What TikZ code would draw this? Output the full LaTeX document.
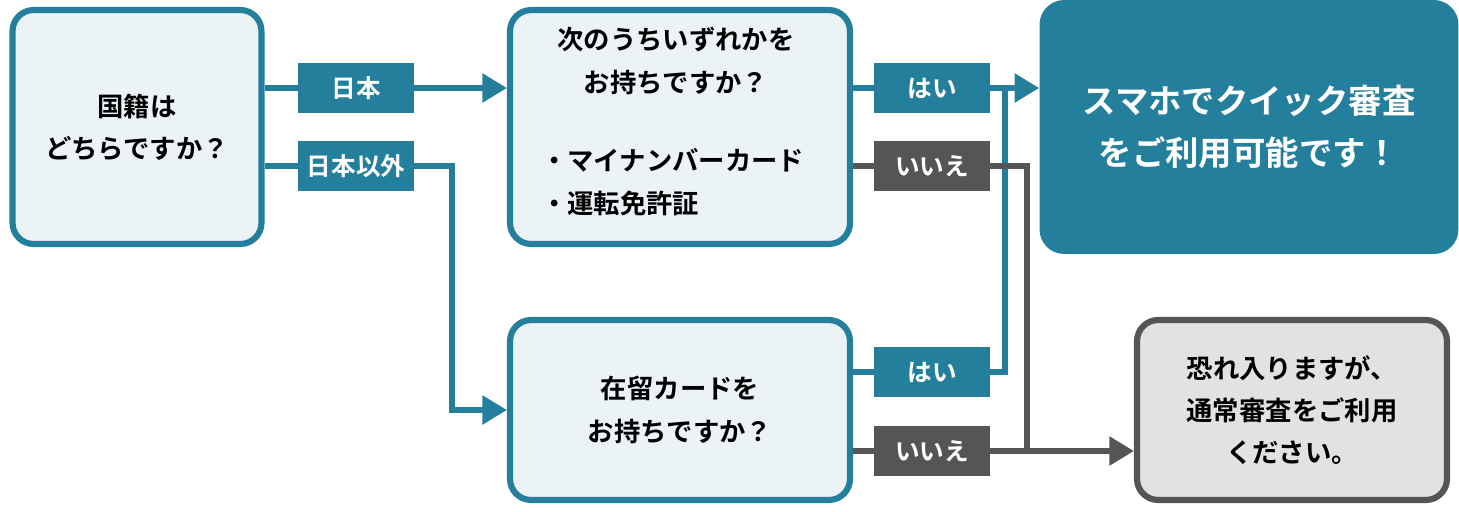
\documentclass[tikz,border=0pt]{standalone}
\usepackage{fontspec}
\newfontfamily\jp{Noto Sans CJK JP}[BoldFont={* Bold}]
\usetikzlibrary{arrows.meta,positioning}
\definecolor{teal}{HTML}{237F9C}
\definecolor{pale}{HTML}{EBF3F6}
\definecolor{dgray}{HTML}{555555}
\definecolor{lgray}{HTML}{E2E2E2}
\tikzset{
  qbox/.style={draw=teal,fill=pale,line width=3.5pt,rounded corners=12pt,
    font=\jp\bfseries\fontsize{15}{24}\selectfont,align=center,inner sep=0pt},
  tag/.style={fill=teal,text=white,font=\jp\bfseries\fontsize{14}{16}\selectfont,
    minimum width=2.32cm,minimum height=1cm,inner sep=0pt},
  ntag/.style={tag,fill=dgray},
  yes/.style={draw=teal,line width=3pt},
  no/.style={draw=dgray,line width=3pt},
}
\begin{document}
\begin{tikzpicture}[x=0.02cm,y=-0.02cm]
  \useasboundingbox (0,0) rectangle (1459,511);
  % questions
  \node[qbox,minimum width=4.98cm,minimum height=4.68cm] (nat) at (137,127) {国籍は\\どちらですか？};
  \node[qbox,minimum width=6.8cm,minimum height=4.68cm] (card) at (680,127) {};
  \node[font=\jp\bfseries\fontsize{15}{24}\selectfont,align=center] (cardq) at (676,61) {次のうちいずれかを\\お持ちですか？};
  \node[font=\jp\bfseries\fontsize{15}{24}\selectfont,align=left,anchor=west] (cardl) at (535,182) {・マイナンバーカード\\・運転免許証};
  \node[qbox,minimum width=6.8cm,minimum height=3.6cm] (res) at (680,410) {在留カードを\\お持ちですか？};
  % results
  \node[fill=teal,rounded corners=14pt,minimum width=8.38cm,minimum height=5.08cm,
    text=white,font=\jp\bfseries\fontsize{19}{30}\selectfont,align=center] (quick) at (1249,127)
    {スマホでクイック審査\\をご利用可能です！};
  \node[qbox,draw=dgray,fill=lgray,minimum width=6.2cm,minimum height=3.6cm] (std) at (1292,410)
    {恐れ入りますが、\\通常審査をご利用\\ください。};
  % tags
  \node[tag] (jp) at (356,88) {日本};
  \node[tag] (fo) at (356,166) {日本以外};
  \node[tag] (y1) at (932,88) {はい};
  \node[ntag] (n1) at (932,166) {いいえ};
  \node[tag] (y2) at (932,372) {はい};
  \node[ntag] (n2) at (932,451) {いいえ};
  \coordinate (jn) at (1005,88);
  \coordinate (nn) at (1027,166);
  % connectors
  \draw[yes] (nat.east|-jp) -- (jp);
  \draw[yes,-{Triangle[length=14pt,width=16pt]}] (jp) -- (card.west|-jp);
  \draw[yes] (nat.east|-fo) -- (fo);
  \draw[yes,-{Triangle[length=14pt,width=16pt]}] (fo.east) -| (452,410) -- (res.west);
  \draw[yes] (card.east|-y1) -- (y1);
  \draw[yes,-{Triangle[length=14pt,width=16pt]}] (y1) -- (quick.west|-y1);
  \draw[yes] (res.east|-y2) -- (y2);
  \draw[yes] (y2.east) -| (jn);
  \draw[no] (card.east|-n1) -- (n1);
  \draw[no] (n1.east) -| (1027,451);
  \draw[no] (res.east|-n2) -- (n2);
  \draw[no,-{Triangle[length=14pt,width=16pt]}] (n2) -- (std.west|-n2);
\end{tikzpicture}
\end{document}
